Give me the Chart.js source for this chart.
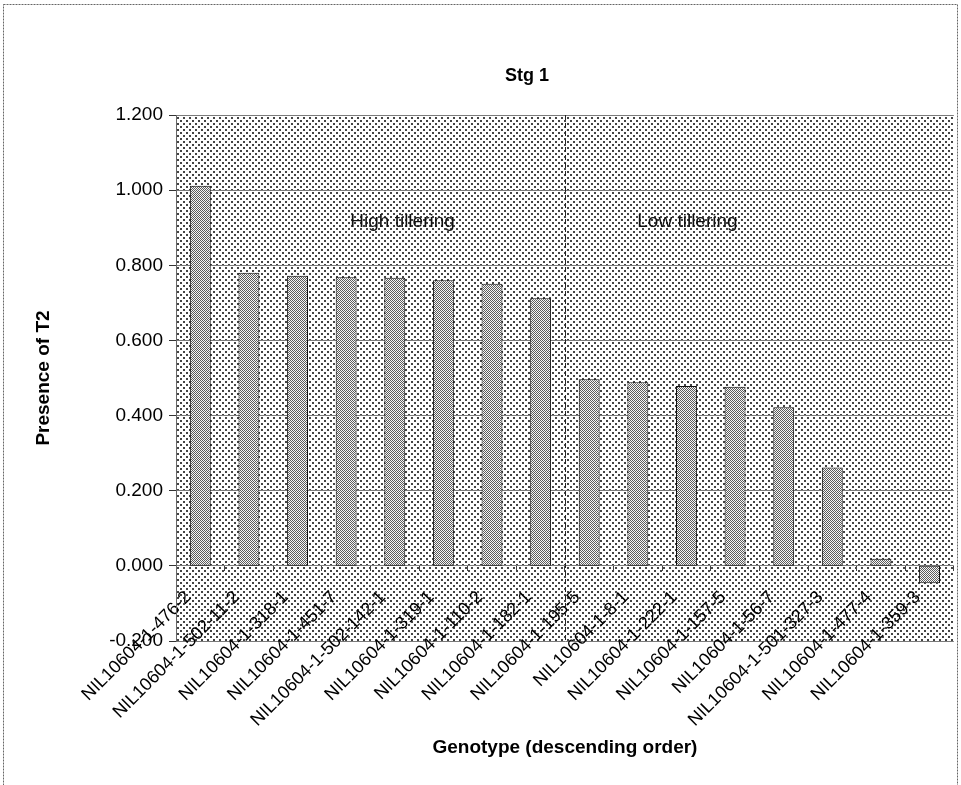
<!DOCTYPE html>
<html>
<head>
<meta charset="utf-8">
<script src="https://cdn.jsdelivr.net/npm/chart.js@4.4.0/dist/chart.umd.min.js"></script>
<style>
  html, body { margin: 0; padding: 0; background: #fff; }
  canvas { display: block; }
</style>
</head>
<body>
<canvas id="stgChart" width="961" height="785"></canvas>
<script>
// data
const genotypes = [
    'NIL10604-1-476-2', 'NIL10604-1-502-11-2', 'NIL10604-1-318-1', 'NIL10604-1-451-7',
    'NIL10604-1-502-142-1', 'NIL10604-1-319-1', 'NIL10604-1-110-2', 'NIL10604-1-182-1',
    'NIL10604-1-195-5', 'NIL10604-1-8-1', 'NIL10604-1-222-1', 'NIL10604-1-157-5',
    'NIL10604-1-56-7', 'NIL10604-1-501-327-3', 'NIL10604-1-477-4', 'NIL10604-1-359-3'
];
const presenceT2 = [1.012, 0.780, 0.772, 0.768, 0.767, 0.760, 0.751, 0.712,
                    0.497, 0.489, 0.479, 0.477, 0.422, 0.262, 0.019, -0.046];
const yMin = -0.2, yMax = 1.2, yStep = 0.2;
const groupLabels = ['High tillering', 'Low tillering'];
const groupSplit = 7.5;   // between 8th and 9th genotype

function makePattern(size, dots, dark, light) {
    const c = document.createElement('canvas');
    c.width = size; c.height = size;
    const g = c.getContext('2d');
    g.fillStyle = light;
    g.fillRect(0, 0, size, size);
    g.fillStyle = dark;
    dots.forEach(d => g.fillRect(d[0], d[1], d[2], d[2]));
    return g.createPattern(c, 'repeat');
}

const plotPattern = makePattern(6, [[0, 0, 2], [3, 3, 2]], '#444', '#ffffff');
const barPattern = makePattern(2, [[0, 0, 1], [1, 1, 1]], '#5c5c5c', '#f6f6f6');

const decorPlugin = {
    id: 'decor',
    beforeDraw(chart) {
        const {ctx, chartArea: a} = chart;
        ctx.save();
        ctx.fillStyle = '#fff';
        ctx.fillRect(0, 0, chart.width, chart.height);
        // dashed frame
        ctx.strokeStyle = '#666';
        ctx.lineWidth = 1;
        ctx.setLineDash([2, 1]);
        ctx.strokeRect(3.5, 4.5, 954, 800);
        ctx.setLineDash([]);
        // plot background
        ctx.fillStyle = plotPattern;
        ctx.fillRect(a.left, a.top, a.right - a.left, a.bottom - a.top);
        // title
        ctx.fillStyle = '#000';
        ctx.font = 'bold 18px "Liberation Sans", Arial, sans-serif';
        ctx.textAlign = 'center';
        ctx.textBaseline = 'middle';
        ctx.fillText('Stg 1', 527, 76);
        ctx.restore();
    },
    afterDatasetsDraw(chart) {
        const {ctx, chartArea: a, scales: {x, y}} = chart;
        ctx.save();
        const sx = Math.round(x.getPixelForValue(groupSplit)) + 0.5;
        ctx.strokeStyle = '#222';
        ctx.lineWidth = 1;
        ctx.setLineDash([5, 3]);
        ctx.beginPath();
        ctx.moveTo(sx, a.top);
        ctx.lineTo(sx, a.bottom);
        ctx.stroke();
        ctx.setLineDash([]);
        ctx.fillStyle = '#111';
        ctx.font = '19px "Liberation Sans", Arial, sans-serif';
        ctx.textAlign = 'center';
        ctx.textBaseline = 'middle';
        ctx.fillText(groupLabels[0], x.getPixelForValue(4.16), y.getPixelForValue(0.915));
        ctx.fillText(groupLabels[1], x.getPixelForValue(10.02), y.getPixelForValue(0.915));
        ctx.restore();
    }
};

const ctx = document.getElementById('stgChart').getContext('2d');

new Chart(ctx, {
    type: 'bar',
    data: {
        labels: genotypes,
        datasets: [{
            label: 'Presence of T2',
            data: presenceT2,
            backgroundColor: barPattern,
            borderColor: '#111',
            borderWidth: 1,
            borderSkipped: false,
            barPercentage: 0.43,
            categoryPercentage: 1.0
        }]
    },
    options: {
        responsive: false,
        animation: false,
        layout: {
            padding: { left: 0, top: 115, right: 6, bottom: 144 }
        },
        plugins: {
            legend: { display: false },
            tooltip: { enabled: false }
        },
        scales: {
            x: {
                position: { y: 0 },
                grid: { display: true, drawOnChartArea: false, tickLength: 5, color: '#444', offset: true },
                border: { display: false },
                ticks: {
                    autoSkip: false,
                    minRotation: 45,
                    maxRotation: 45,
                    labelOffset: -12,
                    padding: 16,
                    color: '#000',
                    font: { family: '"Liberation Sans", Arial, sans-serif', size: 18 }
                },
                title: {
                    display: true,
                    text: 'Genotype (descending order)',
                    color: '#000',
                    font: { family: '"Liberation Sans", Arial, sans-serif', size: 19, weight: 'bold' },
                    padding: { top: -11, bottom: 0 }
                }
            },
            y: {
                min: yMin,
                max: yMax,
                afterFit(scale) { scale.width = 176; },
                ticks: {
                    stepSize: yStep,
                    padding: 6,
                    color: '#000',
                    font: { family: '"Liberation Sans", Arial, sans-serif', size: 19 },
                    callback: v => (Math.abs(v) < 1e-9 ? 0 : v).toFixed(3)
                },
                grid: { color: '#7a7a7a', tickColor: '#333', tickLength: 7 },
                border: { display: true, color: '#666' },
                title: {
                    display: true,
                    text: 'Presence of T2',
                    color: '#000',
                    font: { family: '"Liberation Sans", Arial, sans-serif', size: 19, weight: 'bold' },
                    padding: { top: 32, bottom: 0 }
                }
            }
        }
    },
    plugins: [decorPlugin]
});
</script>
</body>
</html>
